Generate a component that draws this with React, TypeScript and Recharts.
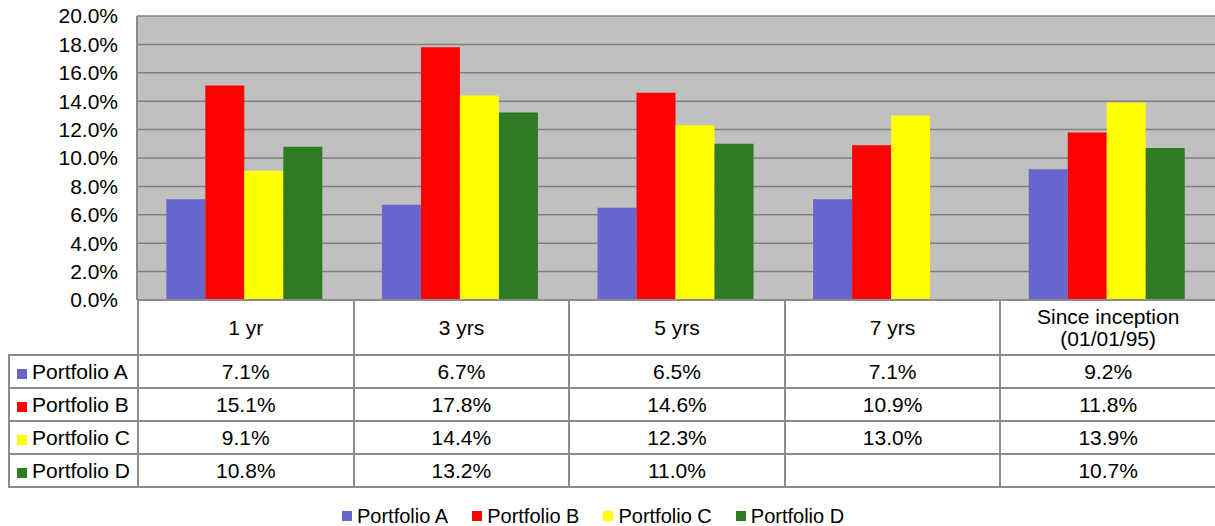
import { BarChart, Bar, XAxis, YAxis, CartesianGrid, Legend } from 'recharts'

const categories = ['1 yr', '3 yrs', '5 yrs', '7 yrs', 'Since inception\n(01/01/95)']
const portfolioA = [7.1, 6.7, 6.5, 7.1, 9.2]
const portfolioB = [15.1, 17.8, 14.6, 10.9, 11.8]
const portfolioC = [9.1, 14.4, 12.3, 13.0, 13.9]
const portfolioD: (number | null)[] = [10.8, 13.2, 11.0, null, 10.7]
const yTicks = [0, 2, 4, 6, 8, 10, 12, 14, 16, 18, 20]

const SERIES = [
  { key: 'a', name: 'Portfolio A', color: '#6666CC', values: portfolioA },
  { key: 'b', name: 'Portfolio B', color: '#FF0000', values: portfolioB },
  { key: 'c', name: 'Portfolio C', color: '#FFFF00', values: portfolioC },
  { key: 'd', name: 'Portfolio D', color: '#2E7B24', values: portfolioD },
]

const data = categories.map((name, i) => {
  const row: Record<string, string | number | null> = { name }
  SERIES.forEach(s => { row[s.key] = s.values[i] })
  return row
})

const FONT = '"Liberation Sans", Arial, sans-serif'
const LINE = '2px solid #8c8c8c'
const PLOT_LEFT = 137
const PLOT_RIGHT = 1215
const COL_W = (PLOT_RIGHT - PLOT_LEFT) / categories.length
const LEGEND_H = 16

const fmt = (v: number | null) => (v == null ? '' : `${v.toFixed(1)}%`)

function LegendBox({ payload }: any) {
  return (
    <div style={{ position: 'absolute', left: 342, top: 0, display: 'flex', fontFamily: FONT, fontSize: 20, color: '#000', lineHeight: '16px' }}>
      {(payload ?? []).map((p: any) => (
        <div key={p.value} style={{ display: 'flex', alignItems: 'center', marginRight: 24 }}>
          <span style={{ width: 10, height: 10, background: p.color, display: 'inline-block', marginRight: 5 }} />
          <span>{p.value}</span>
        </div>
      ))}
    </div>
  )
}

function DataTable() {
  const cell = { border: LINE, textAlign: 'center' as const, padding: 0, fontSize: 21 }
  return (
    <table
      style={{
        position: 'absolute', left: 8, top: 299, borderCollapse: 'collapse', tableLayout: 'fixed',
        width: PLOT_RIGHT - 8 + 2, fontFamily: FONT, color: '#000',
      }}
    >
      <colgroup>
        <col style={{ width: PLOT_LEFT - 8 }} />
        {categories.map(c => <col key={c} style={{ width: COL_W }} />)}
      </colgroup>
      <tbody>
        <tr style={{ height: 55 }}>
          <td style={{ border: 'none' }} />
          {categories.map(c => (
            <td key={c} style={{ ...cell, whiteSpace: 'pre-line', lineHeight: '22px' }}>{c}</td>
          ))}
        </tr>
        {SERIES.map(s => (
          <tr key={s.key} style={{ height: 33 }}>
            <td style={{ ...cell, textAlign: 'left', paddingLeft: 7, whiteSpace: 'nowrap' }}>
              <span style={{ display: 'inline-block', width: 10, height: 10, background: s.color, marginRight: 5 }} />
              {s.name}
            </td>
            {s.values.map((v, i) => (
              <td key={i} style={cell}>{fmt(v)}</td>
            ))}
          </tr>
        ))}
      </tbody>
    </table>
  )
}

export default function App() {
  return (
    <div style={{ position: 'absolute', left: 0, top: 0, width: 1215, height: 526, overflow: 'hidden', background: '#fff' }}>
      <BarChart
        width={1215}
        height={526}
        data={data}
        margin={{ top: 16, right: 0, bottom: 226 - LEGEND_H, left: 0 }}
        barCategoryGap="13.6%"
        barGap={0}
      >
        <CartesianGrid vertical={false} stroke="#808080" strokeWidth={1.5} fill="#C0C0C0" />
        <XAxis dataKey="name" hide height={0} />
        <YAxis
          width={PLOT_LEFT}
          domain={[0, 20]}
          ticks={yTicks}
          interval={0}
          tickFormatter={(v: number) => `${v.toFixed(1)}%`}
          tick={{ fill: '#000', fontSize: 21, fontFamily: FONT }}
          tickLine={false}
          tickSize={0}
          tickMargin={19}
          axisLine={{ stroke: '#8c8c8c', strokeWidth: 2 }}
        />
        {SERIES.map(s => (
          <Bar key={s.key} dataKey={s.key} name={s.name} fill={s.color} isAnimationActive={false} />
        ))}
        <Legend
          content={<LegendBox />}
          wrapperStyle={{ position: 'absolute', top: 508, left: 0, width: 1215, height: LEGEND_H }}
        />
      </BarChart>
      <DataTable />
    </div>
  )
}
